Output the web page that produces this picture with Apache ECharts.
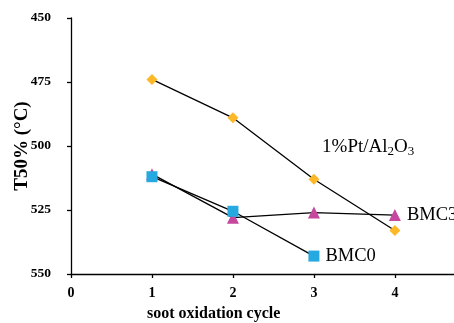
<!DOCTYPE html>
<html><head><meta charset="utf-8">
<script src="https://cdn.jsdelivr.net/npm/echarts@6/dist/echarts.min.js"></script>
<style>html,body{margin:0;padding:0;background:#fff}#c{width:454px;height:323px}</style>
</head><body><div id="c"></div>
<script>
var cycles = [1, 2, 3, 4];
var ptAl2O3 = [474, 489, 513, 533];
var bmc3 = [511, 528, 526, 527];
var bmc0 = [512, 525.5, 543];
var yTicks = [450, 475, 500, 525, 550];
var xTicks = [0, 1, 2, 3, 4];

function pairs(xs, ys) { return ys.map(function (v, i) { return [xs[i], v]; }); }

var font = '"Liberation Serif", "Times New Roman", serif';
var chart = echarts.init(document.getElementById('c'), null, { renderer: 'canvas' });
chart.setOption({
  animation: false,
  backgroundColor: '#fff',
  grid: { left: 71, top: 18, bottom: 49, right: 0, containLabel: false, outerBoundsMode: 'none' },
  xAxis: {
    type: 'value', min: 0, max: 4.73, interval: 1,
    axisLine: { lineStyle: { color: '#000', width: 1.3 } },
    axisTick: { show: true, length: 4, lineStyle: { color: '#000', width: 1.3 } },
    splitLine: { show: false },
    axisLabel: { color: '#000', fontFamily: font, fontWeight: 'bold', fontSize: 14, margin: 12, showMaxLabel: false,
      formatter: function (v) { return xTicks.indexOf(v) >= 0 ? String(v) : ''; } }
  },
  yAxis: {
    type: 'value', inverse: true, min: yTicks[0], max: yTicks[yTicks.length - 1], interval: 25,
    axisLine: { show: true, lineStyle: { color: '#000', width: 1.3 } },
    axisTick: { show: true, length: 4, lineStyle: { color: '#000', width: 1.3 } },
    splitLine: { show: false },
    axisLabel: { color: '#000', fontFamily: font, fontWeight: 'bold', fontSize: 13.5, margin: 20 }
  },
  graphic: [{
    type: 'text', left: 147, top: 306,
    style: { text: 'soot oxidation cycle', fill: '#000', font: 'bold 16px ' + font }
  }, {
    type: 'text', x: 22, y: 146, rotation: Math.PI / 2,
    style: { text: 'T50% (°C)', fill: '#000', font: 'bold 19px ' + font, align: 'center', verticalAlign: 'middle' }
  }],
  series: [
    {
      name: '1%Pt/Al2O3', type: 'line', data: pairs(cycles, ptAl2O3),
      symbol: 'diamond', symbolSize: 11,
      itemStyle: { color: '#FDB827' }, lineStyle: { color: '#000', width: 1.3 },
      markPoint: {
        symbol: 'circle', symbolSize: 0,
        data: [{ coord: [3.67, 500.5] }],
        label: {
          show: true, position: 'inside',
          formatter: '1%Pt/Al{s|2}O{s|3}',
          color: '#000', fontFamily: font, fontSize: 19,
          rich: { s: { fontFamily: font, fontSize: 13, color: '#000', verticalAlign: 'bottom', padding: [9, 0, 0, 0] } }
        }
      }
    },
    {
      name: 'BMC3', type: 'line', data: pairs(cycles, bmc3),
      symbol: 'triangle', symbolSize: 12,
      itemStyle: { color: '#C6479E' }, lineStyle: { color: '#000', width: 1.3 },
      label: { show: true, position: 'right', distance: 6, color: '#000', fontFamily: font, fontSize: 18.5,
        formatter: function (p) { return p.dataIndex === bmc3.length - 1 ? 'BMC3' : ''; } }
    },
    {
      name: 'BMC0', type: 'line', data: pairs(cycles, bmc0),
      symbol: 'rect', symbolSize: 11,
      itemStyle: { color: '#25A9E0' }, lineStyle: { color: '#000', width: 1.3 },
      label: { show: true, position: 'right', distance: 6, color: '#000', fontFamily: font, fontSize: 18.5,
        formatter: function (p) { return p.dataIndex === bmc0.length - 1 ? 'BMC0' : ''; } }
    }
  ]
});
</script></body></html>
